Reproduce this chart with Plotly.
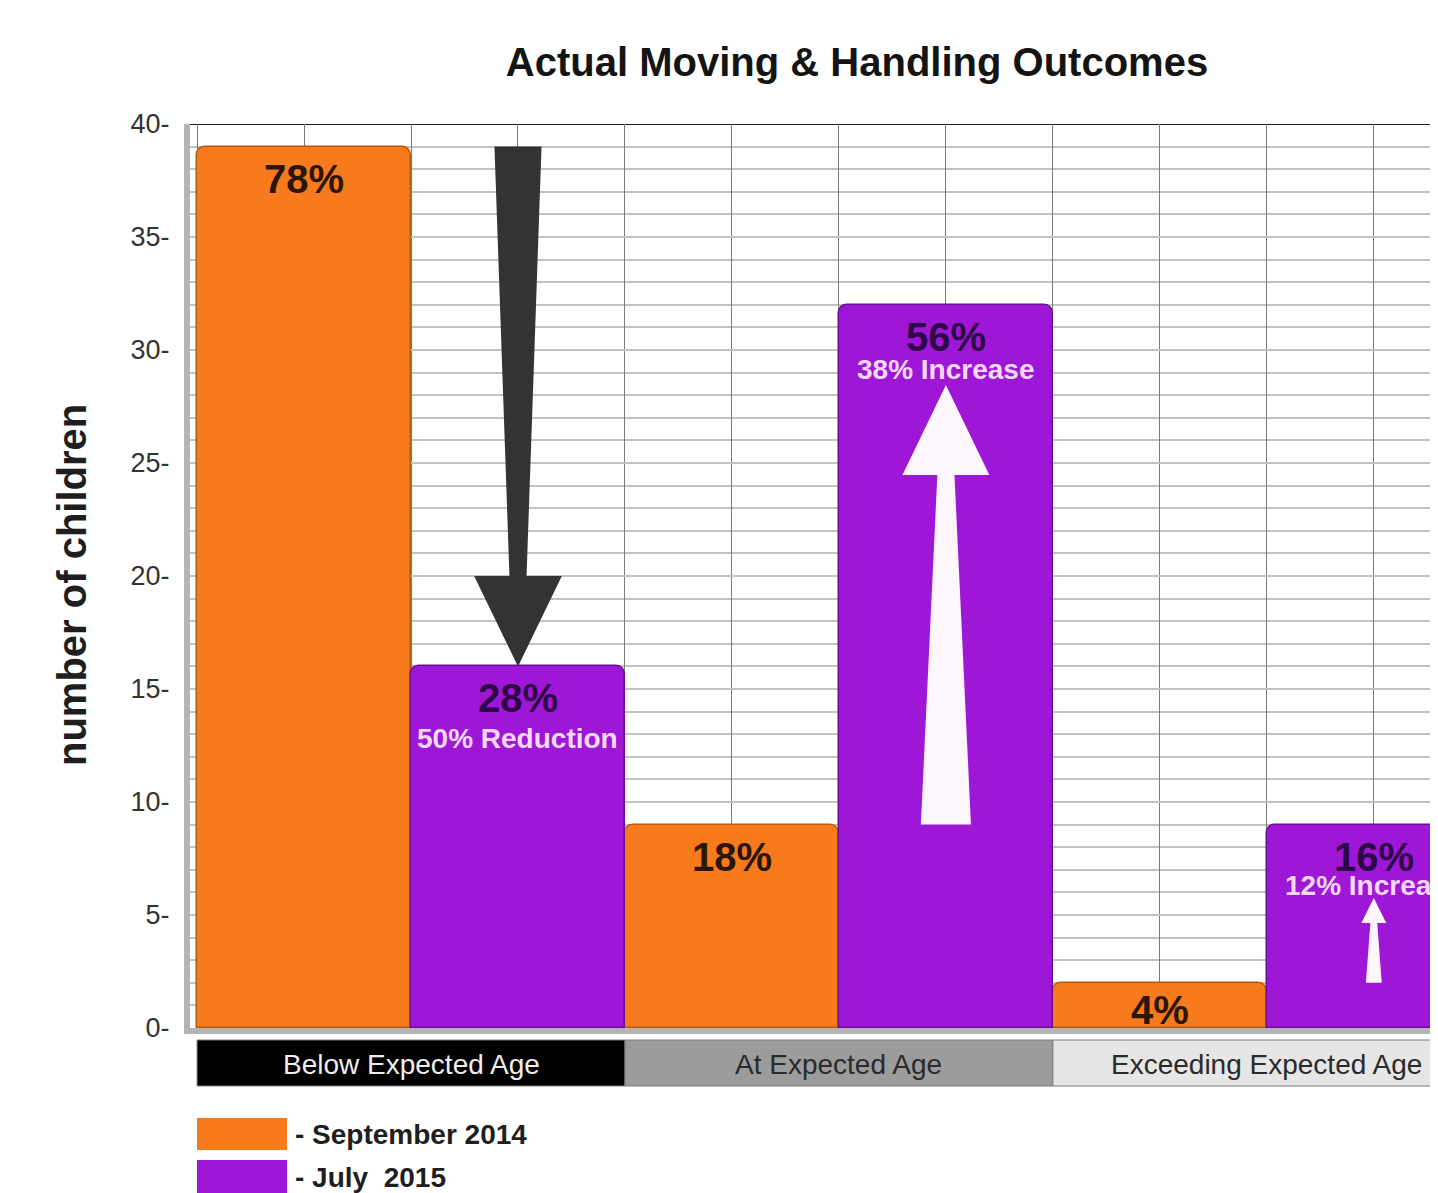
import plotly.graph_objects as go

# ---------------- data ----------------
categories = ["Below Expected Age", "At Expected Age", "Exceeding Expected Age"]
series_names = ["September 2014", "July  2015"]
sept_values = [39, 9, 2]
july_values = [16, 32, 9]
sept_pct = ["78%", "18%", "4%"]
july_pct = ["28%", "56%", "16%"]
change_labels = ["50% Reduction", "38% Increase", "12% Increase"]
arrow_tip_values = [16, 28.45, 5.75]
y_tick_values = [0, 5, 10, 15, 20, 25, 30, 35, 40]
major_lines = [10, 20, 30, 40]

# ---------------- styles ----------------
ORANGE = "#F77A1C"
PURPLE = "#9F17D6"
ORANGE_LINE = "#B9580F"
PURPLE_LINE = "#6C0E95"
FONT = "Liberation Sans, Arial, sans-serif"
band_fill = ["#000000", "#9C9C9C", "#E6E6E6"]
band_text = ["#EEEEEE", "#2A2A2A", "#2A2A2A"]
arrow_colors = ["#333333", "#FDF6FD", "#FDF6FD"]
arrow_head_len = [4.0, 3.98, 1.1]
arrow_tail_half = [0.11, 0.117, 0.037]
arrow_neck_half = [0.04, 0.04, 0.016]
arrow_head_half = [0.205, 0.203, 0.058]
change_shift = [-55, -47, -43]

OFF = 8  # page body margin
W, H = 1438 - OFF, 1193 - OFF
ML, MR, MT = 190 - OFF, 0, 124 - OFF
MB = H - (1028 - OFF)
PW, PH = W - ML - MR, H - MT - MB


def px_x(px):
    return (px - OFF - ML) / PW


def px_y(py):
    return (H - MB - (py - OFF)) / PH


x_sept = [2 * i for i in range(len(categories))]
x_july = [2 * i + 1 for i in range(len(categories))]

fig = go.Figure()
fig.add_trace(go.Bar(
    x=x_sept, y=sept_values, width=1, name=series_names[0],
    marker=dict(color=ORANGE, line=dict(color=ORANGE_LINE, width=1.5), cornerradius=9),
    showlegend=False, hoverinfo="skip",
))
fig.add_trace(go.Bar(
    x=x_july, y=july_values, width=1, name=series_names[1],
    marker=dict(color=PURPLE, line=dict(color=PURPLE_LINE, width=1.5), cornerradius=9),
    showlegend=False, hoverinfo="skip",
))

# arrows (tail at September value, tip at given value), drawn over the July bar
for i in range(len(categories)):
    xc = x_july[i]
    tail = sept_values[i]
    tip = arrow_tip_values[i]
    direction = 1 if tip > tail else -1
    base = tip - direction * arrow_head_len[i]
    th, nh, hh = arrow_tail_half[i], arrow_neck_half[i], arrow_head_half[i]
    xs = [xc - th, xc + th, xc + nh, xc + hh, xc, xc - hh, xc - nh, xc - th]
    ys = [tail, tail, base, base, tip, base, base, tail]
    fig.add_trace(go.Scatter(
        x=xs, y=ys, mode="lines", fill="toself",
        fillcolor=arrow_colors[i], line=dict(color=arrow_colors[i], width=0),
        showlegend=False, hoverinfo="skip",
    ))

shapes = []
annotations = []

# major dark gridlines
for v in major_lines:
    shapes.append(dict(
        type="line", xref="paper", yref="y", x0=0, x1=1, y0=v, y1=v,
        line=dict(color="#1E1E1E", width=2.2), layer="below",
    ))

# percentage labels
for i in range(len(categories)):
    annotations.append(dict(
        x=x_sept[i], y=sept_values[i], xref="x", yref="y", yanchor="top",
        yshift=-8 if sept_values[i] > 3 else -3,
        text="<b>%s</b>" % sept_pct[i], showarrow=False,
        font=dict(family=FONT, size=40, color="#2B1607"),
    ))
    annotations.append(dict(
        x=x_july[i], y=july_values[i], xref="x", yref="y", yanchor="top", yshift=-8,
        text="<b>%s</b>" % july_pct[i], showarrow=False,
        font=dict(family=FONT, size=40, color="#2C0846"),
    ))
    annotations.append(dict(
        x=x_july[i], y=july_values[i], xref="x", yref="y", yanchor="top",
        yshift=change_shift[i],
        text="<b>%s</b>" % change_labels[i], showarrow=False,
        font=dict(family=FONT, size=28, color="#F6D9F8"),
    ))

# category band
for i, cat in enumerate(categories):
    shapes.append(dict(
        type="rect", xref="x", yref="paper",
        x0=x_sept[i] - 0.5, x1=x_july[i] + 0.5,
        y0=px_y(1086), y1=px_y(1040),
        fillcolor=band_fill[i], line=dict(color="#7A7A7A", width=1),
        layer="above",
    ))
    annotations.append(dict(
        x=(x_sept[i] + x_july[i]) / 2, y=px_y(1064), xref="x", yref="paper",
        text=cat, showarrow=False, yanchor="middle",
        font=dict(family=FONT, size=28, color=band_text[i]),
    ))

# legend
legend_colors = [ORANGE, PURPLE]
legend_rows = [(1118, 1150), (1160, 1194)]
for name, col, (t, b) in zip(series_names, legend_colors, legend_rows):
    shapes.append(dict(
        type="rect", xref="paper", yref="paper",
        x0=px_x(197), x1=px_x(287), y0=px_y(b), y1=px_y(t),
        fillcolor=col, line=dict(color=col, width=0), layer="above",
    ))
    annotations.append(dict(
        x=px_x(293), y=px_y((t + b) / 2), xref="paper", yref="paper",
        xanchor="left", yanchor="middle", showarrow=False,
        text="<b>- %s</b>" % name,
        font=dict(family=FONT, size=28, color="#1E1E1E"),
    ))

# y axis title
annotations.append(dict(
    x=px_x(72), y=px_y(585), xref="paper", yref="paper", textangle=-90,
    text="<b>number of children</b>", showarrow=False,
    xanchor="center", yanchor="middle",
    font=dict(family=FONT, size=40, color="#1E1E1E"),
))

fig.update_layout(
    width=W, height=H,
    margin=dict(l=ML, r=MR, t=MT, b=MB, pad=0),
    paper_bgcolor="white", plot_bgcolor="white",
    barmode="overlay", bargap=0,
    title=dict(
        text="<b>Actual Moving & Handling Outcomes</b>",
        x=(857 - OFF) / W, xref="container", xanchor="center",
        y=1 - (62 - OFF) / H, yref="container", yanchor="middle",
        font=dict(family=FONT, size=40, color="#141414"),
    ),
    xaxis=dict(
        range=[-0.533, 5.3], tick0=0, dtick=0.5,
        showgrid=True, gridcolor="#7C7C7C", gridwidth=1.2,
        showticklabels=False, ticks="", zeroline=False,
        showline=True, linecolor="#B4B4B4", linewidth=6,
        fixedrange=True,
    ),
    yaxis=dict(
        range=[0, 40], tickvals=y_tick_values,
        ticktext=["%d-" % v for v in y_tick_values],
        tickfont=dict(family=FONT, size=27, color="#333333"),
        ticks="outside", ticklen=9, tickcolor="rgba(0,0,0,0)",
        showgrid=True, gridcolor="#C2C2C2", gridwidth=2,
        minor=dict(dtick=1, showgrid=True, gridcolor="#C2C2C2", gridwidth=2),
        zeroline=False,
        showline=True, linecolor="#B4B4B4", linewidth=6,
        fixedrange=True,
    ),
    shapes=shapes,
    annotations=annotations,
)

fig.write_html("out.html")
